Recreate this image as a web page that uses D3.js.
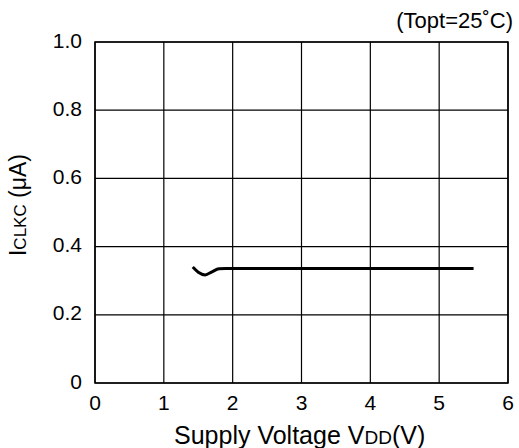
<!DOCTYPE html>
<html>
<head>
<meta charset="utf-8">
<script src="https://cdn.jsdelivr.net/npm/d3@7"></script>
<style>
body { margin: 0; background: #fff; }
text { font-family: "Liberation Sans", Arial, sans-serif; fill: #000; }
</style>
</head>
<body>
<svg width="519" height="448"></svg>
<script>
var voltage = [1.42, 1.5, 1.6, 1.7, 1.8, 1.9, 2.5, 3.5, 4.5, 5.5];
var current = [0.340, 0.325, 0.317, 0.326, 0.335, 0.336, 0.336, 0.336, 0.336, 0.336];
var xTicks = [0, 1, 2, 3, 4, 5, 6];
var yTicks = [0, 0.2, 0.4, 0.6, 0.8, 1.0];

var svg = d3.select("svg");
var x = d3.scaleLinear().domain([0, 6]).range([95, 508]);
var y = d3.scaleLinear().domain([0, 1]).range([383, 42]);

var g = svg.append("g");

// grid
g.selectAll(".vgrid").data(xTicks).enter().append("line")
  .attr("x1", function (d) { return x(d); })
  .attr("x2", function (d) { return x(d); })
  .attr("y1", y(0)).attr("y2", y(1))
  .attr("stroke", "#000").attr("stroke-width", 1.2);
g.selectAll(".hgrid").data(yTicks).enter().append("line")
  .attr("x1", x(0)).attr("x2", x(6))
  .attr("y1", function (d) { return y(d); })
  .attr("y2", function (d) { return y(d); })
  .attr("stroke", "#000").attr("stroke-width", 1.2);
g.append("rect")
  .attr("x", x(0)).attr("y", y(1))
  .attr("width", x(6) - x(0)).attr("height", y(0) - y(1))
  .attr("fill", "none").attr("stroke", "#000").attr("stroke-width", 1.5);

// tick labels
g.selectAll(".xl").data(xTicks).enter().append("text")
  .attr("x", function (d) { return x(d); })
  .attr("y", 410)
  .attr("text-anchor", "middle")
  .style("font-size", "21px")
  .text(function (d) { return d; });
g.selectAll(".yl").data(yTicks).enter().append("text")
  .attr("x", 82)
  .attr("y", function (d) { return y(d) + 5.5; })
  .attr("text-anchor", "end")
  .style("font-size", "21px")
  .text(function (d) { return d === 0 ? "0" : d3.format(".1f")(d); });

// curve
var line = d3.line()
  .x(function (d, i) { return x(voltage[i]); })
  .y(function (d) { return y(d); })
  .curve(d3.curveMonotoneX);
g.append("path")
  .datum(current)
  .attr("d", line)
  .attr("fill", "none")
  .attr("stroke", "#000")
  .attr("stroke-width", 3);

// axis titles
var xt = svg.append("text")
  .attr("x", 174).attr("y", 444)
  .attr("text-anchor", "start")
  .style("font-size", "25px");
xt.append("tspan").text("Supply Voltage V");
xt.append("tspan").style("font-size", "19px").text("DD");
xt.append("tspan").text("(V)");

var yt = svg.append("text")
  .attr("transform", "translate(26,205) rotate(-90)")
  .attr("text-anchor", "middle")
  .style("font-size", "23px");
yt.append("tspan").text("I");
yt.append("tspan").style("font-size", "17px").text("CLKC");
yt.append("tspan").text(" (\u03bcA)");

svg.append("text")
  .attr("x", 513).attr("y", 28)
  .attr("text-anchor", "end")
  .style("font-size", "22px")
  .text("(Topt=25\u02daC)");
</script>
</body>
</html>
